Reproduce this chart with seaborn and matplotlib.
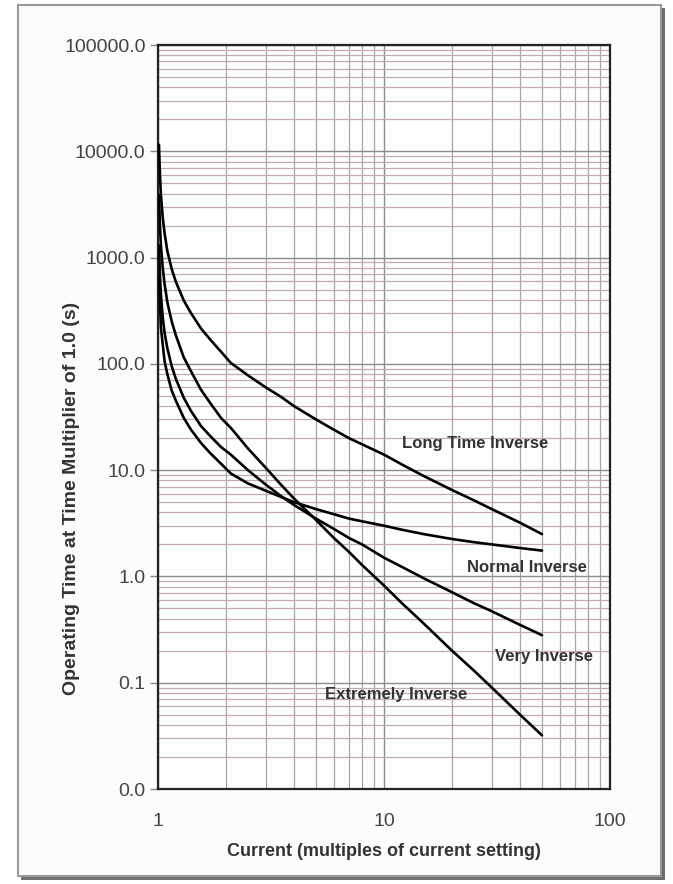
import numpy as np
import seaborn as sns
import matplotlib.pyplot as plt
import pandas as pd
from matplotlib.patches import Rectangle
from matplotlib.ticker import LogLocator, FixedLocator, NullFormatter

sns.set_theme(style = "white")
plt.rcParams['font.family'] = ['Liberation Sans', 'DejaVu Sans']

# curve values (current multiple, operating time in s)
current = [1.01, 1.02, 1.03, 1.05, 1.07, 1.1, 1.15, 1.2, 1.3, 1.4, 1.55, 1.7, 1.9, 2.1, 2.5,
           3, 3.5, 4, 5, 6, 7, 8, 10, 12, 15, 20, 25, 30, 40, 50]
long_time = [11500, 6000, 3900, 2350, 1680, 1150, 780, 590, 395, 300, 215, 170, 130, 102, 78,
             60, 49, 40, 30, 24, 20, 17.5, 14, 11.3, 8.8, 6.5, 5.2, 4.3, 3.2, 2.5]
normal = [650, 380, 220, 150, 105, 80, 56, 45, 31, 24, 18, 14.5, 11.5, 9.3, 7.5,
          6.4, 5.6, 5.0, 4.3, 3.85, 3.5, 3.3, 3.0, 2.75, 2.5, 2.25, 2.1, 2.0, 1.85, 1.75]
very = [1300, 680, 450, 270, 195, 140, 95, 72, 48, 36, 26, 21, 16.5, 14, 10,
        7.3, 5.7, 4.7, 3.5, 2.8, 2.3, 2.0, 1.5, 1.23, 0.96, 0.71, 0.56, 0.47, 0.35, 0.28]
extremely = [3900, 2000, 1300, 790, 560, 380, 250, 185, 115, 85, 57, 43, 31, 25, 16,
             10.5, 7.3, 5.4, 3.4, 2.3, 1.7, 1.28, 0.82, 0.56, 0.36, 0.2, 0.13, 0.09, 0.05, 0.032]

curve_names = ["Long Time Inverse", "Normal Inverse", "Very Inverse", "Extremely Inverse"]
label_x = [25.3, 42.9, 51.2, 11.3]
label_y = [18, 1.22, 0.175, 0.078]

y_ticks = [0.01, 0.1, 1, 10, 100, 1000, 10000, 100000]
y_tick_labels = ["0.0", "0.1", "1.0", "10.0", "100.0", "1000.0", "10000.0", "100000.0"]
x_ticks = [1, 10, 100]
x_tick_labels = ["1", "10", "100"]

rows = []
for name, vals in zip(curve_names, [long_time, normal, very, extremely]):
    for c, t in zip(current, vals):
        rows.append({"curve": name, "current": c, "time": t})
df = pd.DataFrame(rows)

fig = plt.figure(figsize = (6.73, 8.84), dpi = 100)
fig.patch.set_facecolor('white')

# framed card with drop shadow
fig.patches.append(Rectangle((21 / 673, 1 - 880 / 884), 644 / 673, 872 / 884, transform = fig.transFigure,
                             facecolor = '#6f6f6f', edgecolor = 'none', zorder = -3))
fig.patches.append(Rectangle((18 / 673, 1 - 876 / 884), 643 / 673, 871 / 884, transform = fig.transFigure,
                             facecolor = '#fbfdfd', edgecolor = '#9a9a9a', linewidth = 1.5, zorder = -2))

ax = fig.add_axes([158 / 673, 1 - 789 / 884, 452 / 673, 744 / 884])
ax.set_facecolor('#fdfefe')

for name in curve_names:
    sub = df[df["curve"] == name]
    sns.lineplot(data = sub, x = "current", y = "time", color = 'black', linewidth = 1.9, ax = ax, zorder = 5)

ax.set_xscale('log')
ax.set_yscale('log')
ax.set_xlim(1, 100)
ax.set_ylim(0.01, 100000)

ax.xaxis.set_major_locator(FixedLocator(x_ticks))
ax.set_xticklabels(x_tick_labels)
ax.yaxis.set_major_locator(FixedLocator(y_ticks))
ax.set_yticklabels(y_tick_labels)
ax.xaxis.set_minor_locator(LogLocator(base = 10, subs = np.arange(2, 10)))
ax.yaxis.set_minor_locator(LogLocator(base = 10, subs = np.arange(2, 10), numticks = 20))
ax.xaxis.set_minor_formatter(NullFormatter())
ax.yaxis.set_minor_formatter(NullFormatter())

ax.grid(True, which = 'major', color = '#8c8c8c', linewidth = 1.0)
ax.grid(True, which = 'minor', axis = 'x', color = '#a9a4a6', linewidth = 0.9)
ax.grid(True, which = 'minor', axis = 'y', color = '#c3a9b0', linewidth = 0.9)
ax.set_axisbelow(True)

ax.tick_params(axis = 'y', which = 'major', left = True, length = 6, width = 1, color = '#888888',
               labelsize = 14, labelcolor = '#444444', pad = 3)
ax.tick_params(axis = 'x', which = 'major', bottom = False, labelsize = 14, labelcolor = '#444444', pad = 11)
ax.tick_params(which = 'minor', length = 0)

for s in ax.spines.values():
    s.set_color('#222222')
    s.set_linewidth(1.6)

for name, lx, ly in zip(curve_names, label_x, label_y):
    ax.text(lx, ly, name, ha = 'center', va = 'center', fontsize = 12, fontweight = 'bold',
            color = '#333333', zorder = 6)

ax.set_xlabel('Current (multiples of current setting)', fontsize = 13, fontweight = 'bold',
              color = '#333333', labelpad = 10)
ax.set_ylabel('Operating Time at Time Multiplier of 1.0 (s)', fontsize = 14, fontweight = 'bold',
              color = '#333333')
ax.yaxis.set_label_coords(-0.172, 0.39)

plt.savefig('out.png', dpi = 100)
